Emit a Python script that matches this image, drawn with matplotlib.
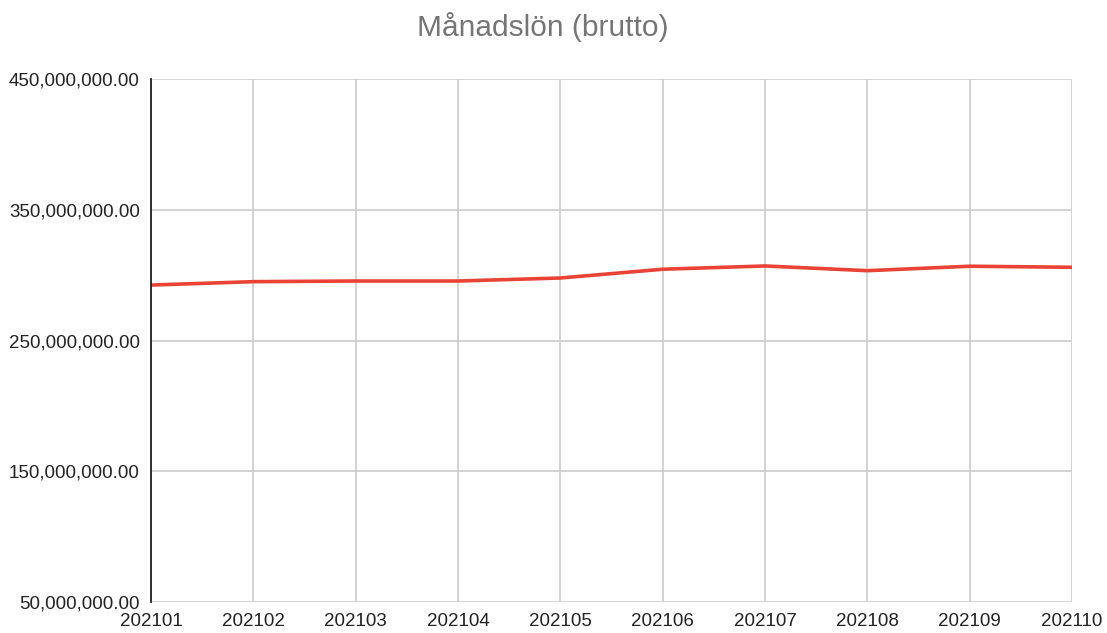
import matplotlib
matplotlib.use("Agg")
import matplotlib.pyplot as plt
from matplotlib.ticker import FuncFormatter

# Monthly gross salary
months = ["202101", "202102", "202103", "202104", "202105",
          "202106", "202107", "202108", "202109", "202110"]
salary = [292.4e6, 295.0e6, 295.5e6, 295.5e6, 297.8e6,
          304.5e6, 307.0e6, 303.4e6, 306.8e6, 306.0e6]
y_ticks = [50e6, 150e6, 250e6, 350e6, 450e6]

plt.rcParams["font.family"] = ["Liberation Sans", "DejaVu Sans"]

fig = plt.figure(figsize=(11.07, 6.33), dpi=100)
ax = fig.add_axes([151 / 1107, 31 / 633, 921 / 1107, 523 / 633])

x = list(range(len(months)))
ax.plot(x, salary, color="#ea4335", linewidth=2.6, solid_joinstyle="round")

ax.set_xlim(0, len(months) - 1)
ax.set_ylim(y_ticks[0], y_ticks[-1])
ax.set_xticks(x)
ax.set_xticklabels(months)
ax.set_yticks(y_ticks)
ax.yaxis.set_major_formatter(FuncFormatter(lambda v, p: f"{v:,.2f}"))

ax.grid(True, color="#cccccc", linewidth=1.2)
ax.set_axisbelow(True)
ax.tick_params(length=0, labelsize=13.5, colors="#222222")
ax.tick_params(axis="x", pad=8)
ax.tick_params(axis="y", pad=8)

for side in ["top", "right", "bottom"]:
    ax.spines[side].set_visible(False)
ax.spines["left"].set_color("#222222")
ax.spines["left"].set_linewidth(1.3)

fig.text(543 / 1107, 1 - 27 / 633, "Månadslön (brutto)", ha="center", va="center",
         fontsize=21.5, color="#757575")

fig.savefig("out.png", dpi=100)
